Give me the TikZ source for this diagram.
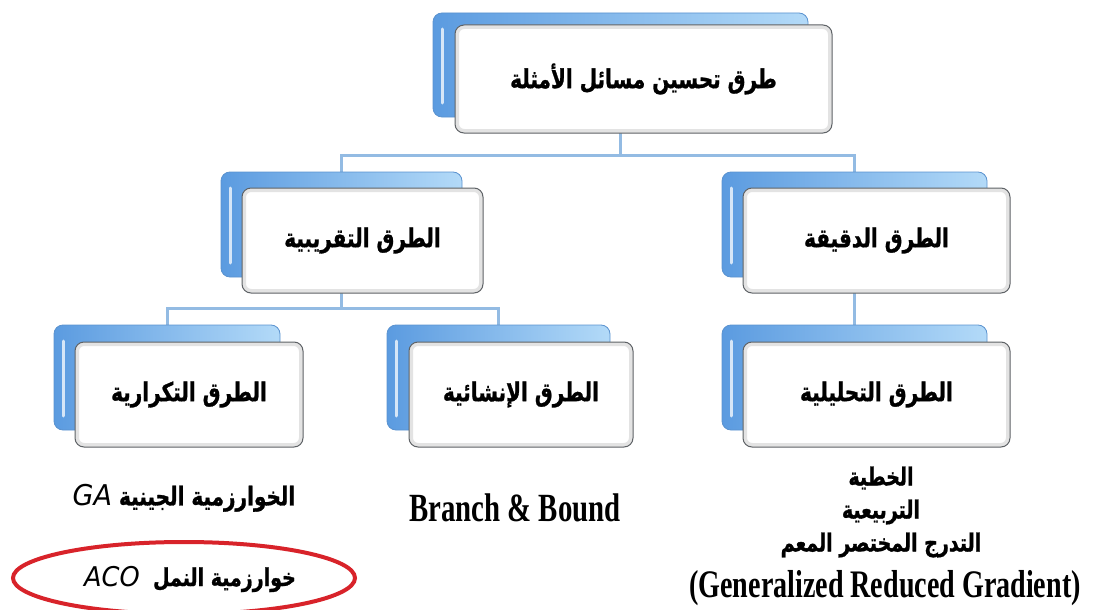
\documentclass[tikz,border=0pt]{standalone}
\usepackage{fontspec}
\usepackage{graphicx}
\usetikzlibrary{backgrounds}
\TeXXeTstate=1
\newfontfamily\arabicfont[Script=Arabic, BoldFeatures={FakeBold=1.2}]{DejaVu Sans}
\newfontfamily\latinobl{DejaVu Sans}
\newfontfamily\condserif[FakeStretch=0.72]{Liberation Serif}
\definecolor{bluedark}{HTML}{5B9BE0}
\definecolor{bluelight}{HTML}{B3DAF8}
\definecolor{blueedge}{HTML}{5A92CF}
\definecolor{connblue}{HTML}{93BBE3}
\definecolor{framegray}{HTML}{5E6266}
\definecolor{ovalred}{HTML}{D8232A}
% bold Arabic line, drawn a little taller than the font's natural shape
\newcommand{\ar}[1]{\scalebox{1.0}[1.3]{\arabicfont\bfseries\beginR #1\endR}}
% slanted Latin abbreviation set inside an Arabic line
\newcommand{\abbr}[1]{\beginL\scalebox{1.35}[1.1]{\latinobl\mdseries\itshape #1}\endL}
\tikzset{
  backbox/.style={rounded corners=9pt, draw=blueedge, line width=0.8pt,
    left color=bluedark, right color=bluelight, inner sep=0pt,
    minimum height=105pt,
    path picture={\draw[white, opacity=0.75, line width=3pt, line cap=round]
      ([xshift=9pt,yshift=-16pt]path picture bounding box.north west) --
      ([xshift=9pt,yshift=14pt]path picture bounding box.south west);}},
  frontbox/.style={rounded corners=9pt, draw=framegray, line width=1pt,
    fill=white, inner sep=0pt, minimum height=105pt,
    font=\fontsize{20}{24}\selectfont,
    path picture={\draw[gray!22, line width=8pt]
      (path picture bounding box.south west) rectangle
      (path picture bounding box.north east);}},
  conn/.style={draw=connblue, line width=3pt},
  plain/.style={inner sep=0pt, align=center},
}
\begin{document}
\begin{tikzpicture}[x=1pt,y=-1pt]
\useasboundingbox (0,0) rectangle (1093,610);

% root of the tree
\node[backbox, minimum width=375pt, minimum height=104pt] (topb) at (620.5,65) {};
\node[frontbox, minimum width=377pt, minimum height=108pt] (topf) at (643.5,79)
  {\ar{طرق تحسين مسائل الأمثلة}};

% second level
\node[backbox, minimum width=241pt] (l2Lb) at (341.5,224.5) {};
\node[frontbox, minimum width=241pt] (l2Lf) at (362.5,240.5) {\ar{الطرق التقريبية}};
\node[backbox, minimum width=265pt] (l2Rb) at (854.5,224.5) {};
\node[frontbox, minimum width=267pt] (l2Rf) at (876.5,240.5) {\ar{الطرق الدقيقة}};

% third level
\node[backbox, minimum width=226pt] (l3Lb) at (167,377.5) {};
\node[frontbox, minimum width=228pt] (l3Lf) at (189,394.5) {\ar{الطرق التكرارية}};
\node[backbox, minimum width=223pt] (l3Mb) at (498.5,377.5) {};
\node[frontbox, minimum width=224pt] (l3Mf) at (521,394.5) {\ar{الطرق الإنشائية}};
\node[backbox, minimum width=265pt] (l3Rb) at (854.5,377.5) {};
\node[frontbox, minimum width=267pt] (l3Rf) at (876.5,394.5) {\ar{الطرق التحليلية}};

% connectors behind the boxes
\coordinate (busA) at (0,155);
\coordinate (busB) at (0,308);
\begin{scope}[on background layer]
  \draw[conn] (topb.south) -- (topb.south |- busA) -| (l2Lb.north);
  \draw[conn] (topb.south |- busA) -| (l2Rb.north);
  \draw[conn] (l2Lb.south) -- (l2Lb.south |- busB) -| (l3Lb.north);
  \draw[conn] (l2Lb.south |- busB) -| (l3Mb.north);
  \draw[conn] (l2Rb.south) -- (l3Rb.north);
\end{scope}

% examples under each method
\node[plain, font=\fontsize{20}{26}\selectfont] (ga) at (184,498)
  {\ar{الخوارزمية الجينية \abbr{GA}}};
\node[plain, font=\fontsize{19}{26}\selectfont] (aco) at (190,579)
  {\ar{خوارزمية النمل \ \abbr{ACO}}};
\draw[ovalred, line width=4pt] (184,578) ellipse [x radius=171pt, y radius=36pt];
\node[plain, font=\condserif\bfseries\fontsize{40}{44}\selectfont] (bb) at (515,508)
  {Branch \& Bound};
\node[plain, font=\fontsize{19}{33}\selectfont] (exact) at (881,512)
  {\ar{الخطية}\\ \ar{التربيعية}\\ \ar{التدرج المختصر المعم}};
\node[plain, font=\condserif\bfseries\fontsize{39}{42}\selectfont] (grg) at (885,588)
  {(Generalized Reduced Gradient)};
\end{tikzpicture}
\end{document}
